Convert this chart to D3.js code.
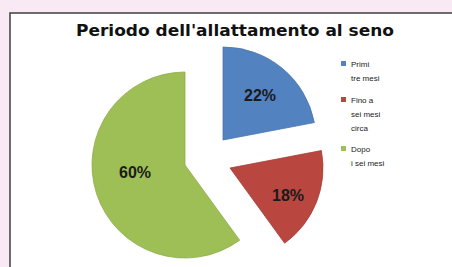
<!DOCTYPE html>
<html><head><meta charset="utf-8">
<script src="https://cdn.jsdelivr.net/npm/d3@7"></script>
<style>
html,body{margin:0;padding:0;background:#f9e9f4;}
svg{display:block;}
</style></head>
<body>
<script>
const title = "Periodo dell'allattamento al seno";
const categories = ["Primi tre mesi", "Fino a sei mesi circa", "Dopo i sei mesi"];
const legendLines = [["Primi", "tre mesi"], ["Fino a", "sei mesi", "circa"], ["Dopo", "i sei mesi"]];
const values = [22, 18, 60];
const colors = ["#5282c0", "#b9463f", "#9ebf55"];

const W = 452, H = 267;
const svg = d3.select("body").append("svg").attr("width", W).attr("height", H);

// chart box
svg.append("rect").attr("x", 10).attr("y", 13).attr("width", W).attr("height", H)
  .attr("fill", "#ffffff").attr("stroke", "#4a4a4a").attr("stroke-width", 1.6);

svg.append("text").attr("x", 235).attr("y", 36).attr("text-anchor", "middle")
  .attr("font-family", "DejaVu Sans, sans-serif").attr("font-weight", "bold")
  .attr("font-size", 16).attr("textLength", 318).attr("lengthAdjust", "spacingAndGlyphs")
  .attr("fill", "#111").text(title);

const R = 93;
const pie = d3.pie().sort(null).value(d => d);
const arcs = pie(values);
const arc = d3.arc().innerRadius(0).outerRadius(R);
// exploded slice apex positions (layout)
const apex = [[223, 140], [230, 168], [185, 165]];
const labelOffsets = [[37, -45], [58, 27], [-50, 7]];

const g = svg.append("g");
arcs.forEach((a, i) => {
  const sg = g.append("g").attr("transform", `translate(${apex[i][0]},${apex[i][1]})`);
  sg.append("path").attr("d", arc(a)).attr("fill", colors[i])
    .attr("stroke", d3.color(colors[i]).darker(0.3)).attr("stroke-width", 0.8);
  sg.append("text").attr("x", labelOffsets[i][0]).attr("y", labelOffsets[i][1])
    .attr("text-anchor", "middle").attr("dominant-baseline", "central")
    .attr("font-family", "Liberation Sans, Arial, sans-serif").attr("font-weight", "bold")
    .attr("font-size", 16).attr("fill", "#1a1a1a")
    .text(d3.format(".0%")(a.value / d3.sum(values)));
});

// legend
const legTop = [64, 100, 149];
const lg = svg.append("g");
legendLines.forEach((lines, i) => {
  lg.append("rect").attr("x", 341).attr("y", legTop[i] - 3).attr("width", 5).attr("height", 5)
    .attr("fill", colors[i]);
  lines.forEach((t, j) => {
    lg.append("text").attr("x", 351).attr("y", legTop[i] + j * 14).attr("dominant-baseline", "central")
      .attr("font-family", "Liberation Sans, Arial, sans-serif").attr("font-size", 8)
      .attr("fill", "#222").text(t);
  });
});
</script>
</body></html>
